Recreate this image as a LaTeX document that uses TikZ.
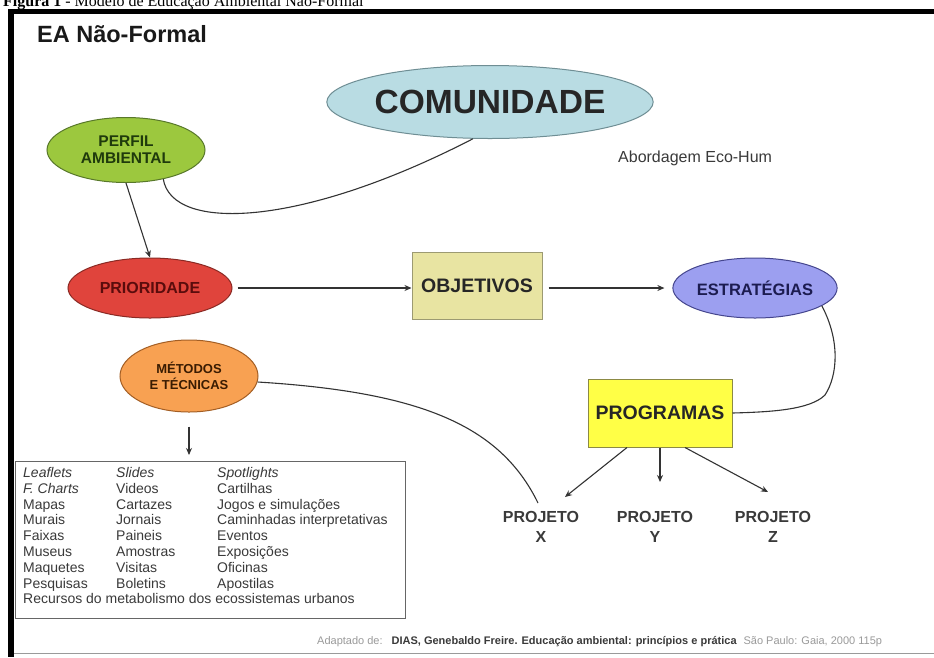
\documentclass[tikz,border=0pt]{standalone}
\usepackage{fontspec}
\setmainfont{Liberation Sans}
\newfontfamily\capfont{Liberation Serif}
\usetikzlibrary{shapes.geometric,arrows.meta}
\definecolor{comfill}{HTML}{B9DCE3}
\definecolor{comdraw}{HTML}{6F8E94}
\definecolor{perfill}{HTML}{9CC83E}
\definecolor{perdraw}{HTML}{58782A}
\definecolor{pertext}{HTML}{1F3A0C}
\definecolor{prifill}{HTML}{E0443C}
\definecolor{pridraw}{HTML}{8A2A24}
\definecolor{pritext}{HTML}{5A0C0C}
\definecolor{objfill}{HTML}{E8E4A2}
\definecolor{objdraw}{HTML}{9C9A72}
\definecolor{estfill}{HTML}{9C9FF0}
\definecolor{estdraw}{HTML}{45468E}
\definecolor{esttext}{HTML}{1C1C50}
\definecolor{prgfill}{HTML}{FFFF46}
\definecolor{prgdraw}{HTML}{8C8A44}
\definecolor{metfill}{HTML}{F8A152}
\definecolor{metdraw}{HTML}{A35E24}
\definecolor{mettext}{HTML}{3A1C02}
\definecolor{conn}{HTML}{333333}
\definecolor{txtgrey}{HTML}{3A3A3A}
\definecolor{lightgrey}{HTML}{9A9A9A}
\tikzset{
  oval/.style={ellipse, draw, line width=1pt, inner sep=0pt, align=center, font=\bfseries},
  boxnode/.style={rectangle, draw, line width=1pt, inner sep=0pt, align=center, font=\bfseries},
  arr/.style={draw=conn, line width=1.1pt, -{Stealth[length=7pt,width=6pt]}},
  link/.style={draw=conn, line width=1.1pt},
  listtxt/.style={anchor=base west, inner sep=0pt, text=txtgrey, font=\fontsize{14}{16}\selectfont},
  projtxt/.style={align=center, inner sep=0pt, text=txtgrey, font=\fontsize{16}{20}\selectfont\bfseries}
}
\begin{document}
\begin{tikzpicture}[x=1pt,y=-1pt]
\useasboundingbox (0,0) rectangle (934,657);
\fill[white] (0,0) rectangle (934,657);
% caption (cut at top, as in the reference)
\node[anchor=base west, inner sep=0pt, font=\capfont\fontsize{16}{18}\selectfont] (cap) at (3,6)
  {\textbf{Figura 1} - Modelo de Educação Ambiental Não-Formal};
% frame
\draw[line width=5pt] (8,11.5) -- (934,11.5);
\draw[line width=6pt] (11,9) -- (11,657);
\draw[lightgrey, line width=0.8pt] (14,653) -- (934,653);
% title
\node[anchor=base west, inner sep=0pt, font=\fontsize{23.5}{26}\selectfont\bfseries, text=black!90] (title) at (37,42) {EA Não-Formal};
% nodes
\node[oval, fill=comfill, draw=comdraw, minimum width=310pt, minimum height=73pt,
      font=\fontsize{33.5}{35}\selectfont\bfseries, text=black!85] (com) at (490,102) {COMUNIDADE};
\node[oval, fill=perfill, draw=perdraw, minimum width=158pt, minimum height=65pt,
      font=\fontsize{15.5}{17}\selectfont\bfseries, text=pertext] (perfil) at (126,150) {PERFIL\\AMBIENTAL};
\node[anchor=base west, inner sep=0pt, font=\fontsize{16}{18}\selectfont, text=txtgrey] (abord) at (618,162) {Abordagem Eco-Hum};
\node[oval, fill=prifill, draw=pridraw, minimum width=164pt, minimum height=60pt,
      font=\fontsize{16}{18}\selectfont\bfseries, text=pritext] (prio) at (150,288) {PRIORIDADE};
\node[boxnode, fill=objfill, draw=objdraw, minimum width=130pt, minimum height=67pt,
      font=\fontsize{19.5}{21}\selectfont\bfseries, text=black!85] (obj) at (477,285.5) {OBJETIVOS};
\node[oval, fill=estfill, draw=estdraw, minimum width=160pt, minimum height=60pt,
      font=\fontsize{16.5}{18}\selectfont\bfseries, text=esttext] (estr) at (755,288) {ESTRATÉGIAS};
\node[boxnode, fill=prgfill, draw=prgdraw, minimum width=144pt, minimum height=68pt,
      font=\fontsize{19.5}{21}\selectfont\bfseries, text=black!85] (prog) at (660,413) {PROGRAMAS};
\node[oval, fill=metfill, draw=metdraw, minimum width=138pt, minimum height=72pt,
      font=\fontsize{13}{15.5}\selectfont\bfseries, text=mettext] (met) at (189,376) {MÉTODOS\\E TÉCNICAS};
\node[projtxt] (px) at (541,527) {PROJETO\\X};
\node[projtxt] (py) at (655,527) {PROJETO\\Y};
\node[projtxt] (pz) at (773,527) {PROJETO\\Z};
% list box
\node[draw=gray!80!black, line width=1pt, minimum width=390pt, minimum height=157pt, inner sep=0pt] (listbox) at (210,539.5) {};
\foreach \t [count=\i from 0] in {\textit{Leaflets},\textit{F. Charts},Mapas,Murais,Faixas,Museus,Maquetes,Pesquisas,Recursos do metabolismo dos ecossistemas urbanos}
  \node[listtxt] (la\i) at (23,477.5+15.8*\i) {\t};
\foreach \t [count=\i from 0] in {\textit{Slides},Videos,Cartazes,Jornais,Paineis,Amostras,Visitas,Boletins}
  \node[listtxt] (lb\i) at (116,477.5+15.8*\i) {\t};
\foreach \t [count=\i from 0] in {\textit{Spotlights},Cartilhas,Jogos e simulações,Caminhadas interpretativas,Eventos,Exposições,Oficinas,Apostilas}
  \node[listtxt] (lc\i) at (217,477.5+15.8*\i) {\t};
% footer
\node[anchor=base west, inner sep=0pt, font=\fontsize{11}{13}\selectfont] (foot) at (317,644)
  {\textcolor{lightgrey}{Adaptado de:}\hspace{9pt}\textbf{\textcolor{txtgrey}{DIAS, Genebaldo Freire. Educação ambiental: princípios e prática}}\hspace{7pt}\textcolor{lightgrey}{São Paulo: Gaia, 2000 115p}};
% coordinates
\coordinate (xend) at (538,503);
\coordinate (tx) at (565,497);
\coordinate (ty) at (660,482);
\coordinate (tz) at (768,492);
\coordinate (mtip) at (189,455);
% connectors
\draw[link] (perfil.-38) .. controls (172,232) and (300,228) .. (com.-115);
\draw[arr] (perfil.south) -- (prio.north);
\draw[arr, shorten <=5pt] (prio.east) -- (prio.east -| obj.west);
\draw[arr, shorten <=6pt, shorten >=8pt] (obj.east |- estr.west) -- (estr.west);
\draw[link] (estr.-15) .. controls (840,340) and (838,375) .. (825,395) .. controls (810,410) and (770,412) .. (prog.east);
\draw[link] (met.-5) .. controls (420,392) and (500,425) .. (xend);
\draw[arr] ([yshift=-14pt]met.south) -- (mtip);
\draw[arr] ([xshift=-33pt]prog.south) -- (tx);
\draw[arr] (prog.south) -- (ty);
\draw[arr] ([xshift=25pt]prog.south) -- (tz);
\end{tikzpicture}
\end{document}
